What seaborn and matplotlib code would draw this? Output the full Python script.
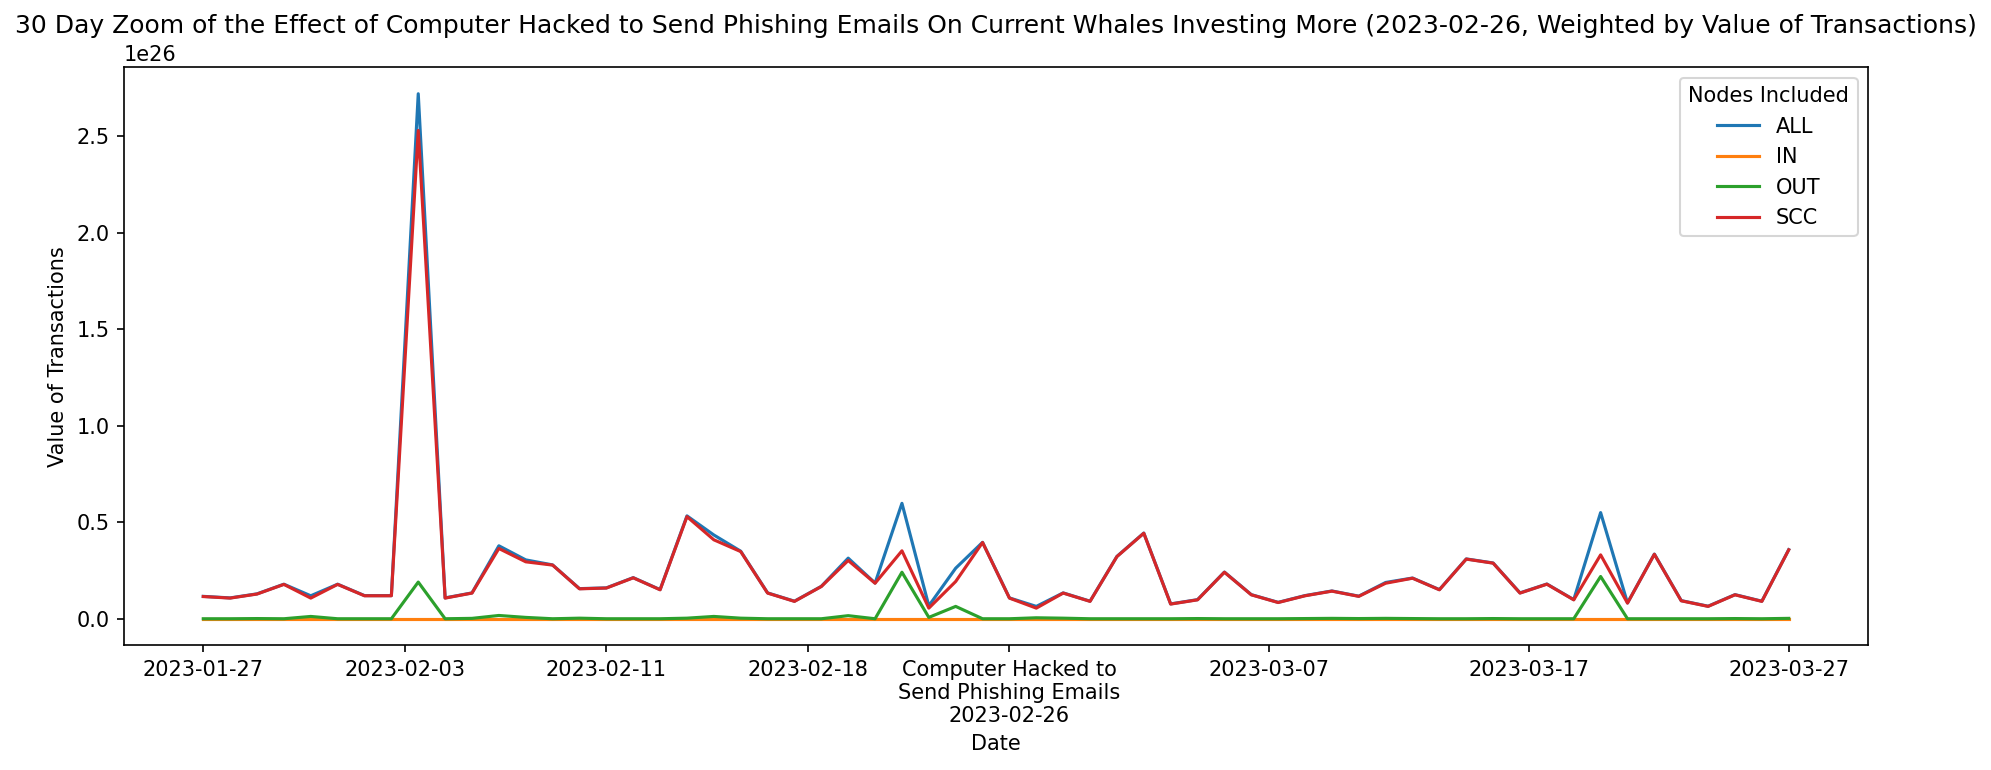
import matplotlib
matplotlib.use("Agg")
import matplotlib.pyplot as plt
import matplotlib.dates as mdates
import numpy as np
import pandas as pd
import seaborn as sns

# daily values, in units of 1e25
dates = pd.date_range("2023-01-27", "2023-03-27", freq="D")
event_date = pd.Timestamp("2023-02-26")
event_name = "Computer Hacked to\nSend Phishing Emails"

scc = [1.15, 1.07, 1.28, 1.78, 1.07, 1.78, 1.19, 1.19, 25.3, 1.07,
       1.33, 3.64, 2.95, 2.78, 1.55, 1.59, 2.12, 1.50, 5.29, 4.09,
       3.48, 1.33, 0.90, 1.67, 3.02, 1.84, 3.52, 0.55, 1.93, 3.95,
       1.07, 0.55, 1.33, 0.90, 3.22, 4.43, 0.76, 0.98, 2.41, 1.24,
       0.84, 1.19, 1.43, 1.16, 1.84, 2.10, 1.50, 3.09, 2.88, 1.33,
       1.79, 0.98, 3.31, 0.81, 3.34, 0.93, 0.64, 1.24, 0.90, 3.57]
all_nodes = [1.16, 1.08, 1.29, 1.79, 1.19, 1.79, 1.20, 1.20, 27.2, 1.08,
             1.34, 3.78, 3.05, 2.79, 1.56, 1.60, 2.13, 1.51, 5.33, 4.34,
             3.50, 1.34, 0.91, 1.68, 3.14, 1.85, 5.98, 0.67, 2.62, 3.96,
             1.08, 0.64, 1.34, 0.91, 3.23, 4.44, 0.77, 0.99, 2.42, 1.25,
             0.85, 1.20, 1.44, 1.17, 1.88, 2.11, 1.51, 3.10, 2.89, 1.34,
             1.80, 0.99, 5.50, 0.82, 3.35, 0.94, 0.65, 1.25, 0.91, 3.58]
out_nodes = [0.00, 0.00, 0.01, 0.00, 0.12, 0.00, 0.00, 0.00, 1.90, 0.00,
             0.02, 0.17, 0.07, 0.00, 0.03, 0.00, 0.00, 0.00, 0.03, 0.12,
             0.03, 0.00, 0.00, 0.00, 0.16, 0.00, 2.41, 0.07, 0.64, 0.00,
             0.00, 0.05, 0.03, 0.00, 0.00, 0.00, 0.00, 0.01, 0.00, 0.00,
             0.00, 0.01, 0.02, 0.01, 0.02, 0.01, 0.00, 0.00, 0.01, 0.00,
             0.00, 0.00, 2.19, 0.00, 0.00, 0.00, 0.00, 0.01, 0.00, 0.02]
in_nodes = [0.0] * len(dates)

series = {"ALL": all_nodes, "IN": in_nodes, "OUT": out_nodes, "SCC": scc}

frames = []
for name, vals in series.items():
    frames.append(pd.DataFrame({"Date": dates,
                                "Value of Transactions": np.array(vals) * 1e25,
                                "Nodes Included": name}))
df = pd.concat(frames, ignore_index=True)

fig = plt.figure(figsize=(1991 / 150, 770 / 150), dpi=150)
ax = fig.add_axes([124 / 1991, (770 - 645) / 770, 1744 / 1991, 577.5 / 770])

sns.lineplot(data=df, x="Date", y="Value of Transactions", hue="Nodes Included",
             palette=["tab:blue", "tab:orange", "tab:green", "tab:red"], ax=ax)

# ticks: 4 equal steps before the event, 3 after
start = mdates.date2num(dates[0])
ev = mdates.date2num(event_date)
end = mdates.date2num(dates[-1])
ticks = list(np.linspace(start, ev, 5)) + list(np.linspace(ev, end, 4)[1:])
labels = [mdates.num2date(t).strftime("%Y-%m-%d") for t in ticks]
labels[4] = event_name + "\n" + labels[4]
ax.set_xticks(ticks)
ax.set_xticklabels(labels)

ax.set_title("30 Day Zoom of the Effect of Computer Hacked to Send Phishing Emails On Current "
             "Whales Investing More (2023-02-26, Weighted by Value of Transactions)")
ax.legend(title="Nodes Included", loc="upper right")

fig.savefig("out.png", dpi=150)
